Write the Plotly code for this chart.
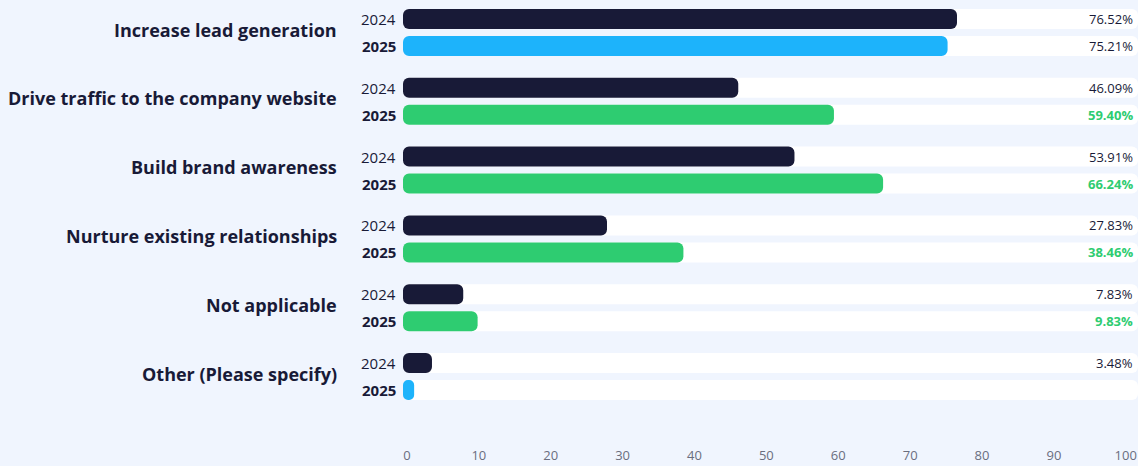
import plotly.graph_objects as go

categories = ["Increase lead generation", "Drive traffic to the company website",
              "Build brand awareness", "Nurture existing relationships",
              "Not applicable", "Other (Please specify)"]
values_2024 = [76.52, 46.09, 53.91, 27.83, 7.83, 3.48]
values_2025 = [75.21, 59.40, 66.24, 38.46, 9.83, 1.0]
labels_2024 = ["76.52%", "46.09%", "53.91%", "27.83%", "7.83%", "3.48%"]
labels_2025 = ["75.21%", "59.40%", "66.24%", "38.46%", "9.83%", ""]
x_ticks = [0, 10, 20, 30, 40, 50, 60, 70, 80, 90, 100]

NAVY = "#181a37"
BLUE = "#1db3fb"
GREEN = "#2ecc71"
BG = "#f0f5fe"
FONT = "Open Sans"

# vertical layout (pixel units on a reversed y axis)
GROUP_STEP = 68.8
Y24 = [19 + i * GROUP_STEP for i in range(len(categories))]
Y25 = [46 + i * GROUP_STEP for i in range(len(categories))]
BASE = -0.55
XMAX = 101.7

colors_2025 = [GREEN if b > a else BLUE for a, b in zip(values_2024, values_2025)]

fig = go.Figure()

# white tracks
fig.add_trace(go.Bar(
    y=Y24 + Y25, x=[XMAX - BASE] * (2 * len(categories)), base=BASE,
    orientation="h", width=20, marker=dict(color="white", line_width=0),
    hoverinfo="skip", showlegend=False))

fig.add_trace(go.Bar(
    y=Y24, x=[v - BASE for v in values_2024], base=BASE, orientation="h",
    width=20, marker=dict(color=NAVY, line_width=0), name="2024", showlegend=False))
fig.add_trace(go.Bar(
    y=Y25, x=[v - BASE for v in values_2025], base=BASE, orientation="h",
    width=20, marker=dict(color=colors_2025, line_width=0), name="2025", showlegend=False))

annotations = []
for i, cat in enumerate(categories):
    annotations.append(dict(
        x=0, xref="paper", y=(Y24[i] + Y25[i]) / 2 - 3, yref="y", xshift=-64,
        text="<b>" + cat + "</b>", showarrow=False, xanchor="right", yanchor="middle",
        font=dict(family=FONT, size=18, color=NAVY)))
    annotations.append(dict(
        x=0, xref="paper", y=Y24[i], yref="y", xshift=-5, text="2024",
        showarrow=False, xanchor="right", yanchor="middle",
        font=dict(family=FONT, size=15, color=NAVY)))
    annotations.append(dict(
        x=0, xref="paper", y=Y25[i], yref="y", xshift=-5, text="<b>2025</b>",
        showarrow=False, xanchor="right", yanchor="middle",
        font=dict(family=FONT, size=15, color=NAVY)))
    annotations.append(dict(
        x=1, xref="paper", y=Y24[i], yref="y", xshift=-3, text=labels_2024[i],
        showarrow=False, xanchor="right", yanchor="middle",
        font=dict(family=FONT, size=13, color=NAVY)))
    if labels_2025[i]:
        green = colors_2025[i] == GREEN
        annotations.append(dict(
            x=1, xref="paper", y=Y25[i], yref="y", xshift=-3,
            text=("<b>" + labels_2025[i] + "</b>") if green else labels_2025[i],
            showarrow=False, xanchor="right", yanchor="middle",
            font=dict(family=FONT, size=13, color=GREEN if green else NAVY)))

fig.update_layout(
    width=1138, height=466,
    margin=dict(l=403, r=0, t=0, b=20),
    paper_bgcolor=BG, plot_bgcolor=BG,
    barmode="overlay", barcornerradius=6,
    annotations=annotations,
    font=dict(family=FONT, color=NAVY),
    xaxis=dict(range=[BASE, XMAX], tickvals=x_ticks, showgrid=False, zeroline=False,
               showline=False, ticks="", tickfont=dict(family=FONT, size=13, color="#6a6e7e")),
    yaxis=dict(range=[446, 0], showticklabels=False, showgrid=False, zeroline=False,
               showline=False),
)

fig.write_html("out.html", config={"displayModeBar": False},
               post_script="document.body.style.margin='0';")
